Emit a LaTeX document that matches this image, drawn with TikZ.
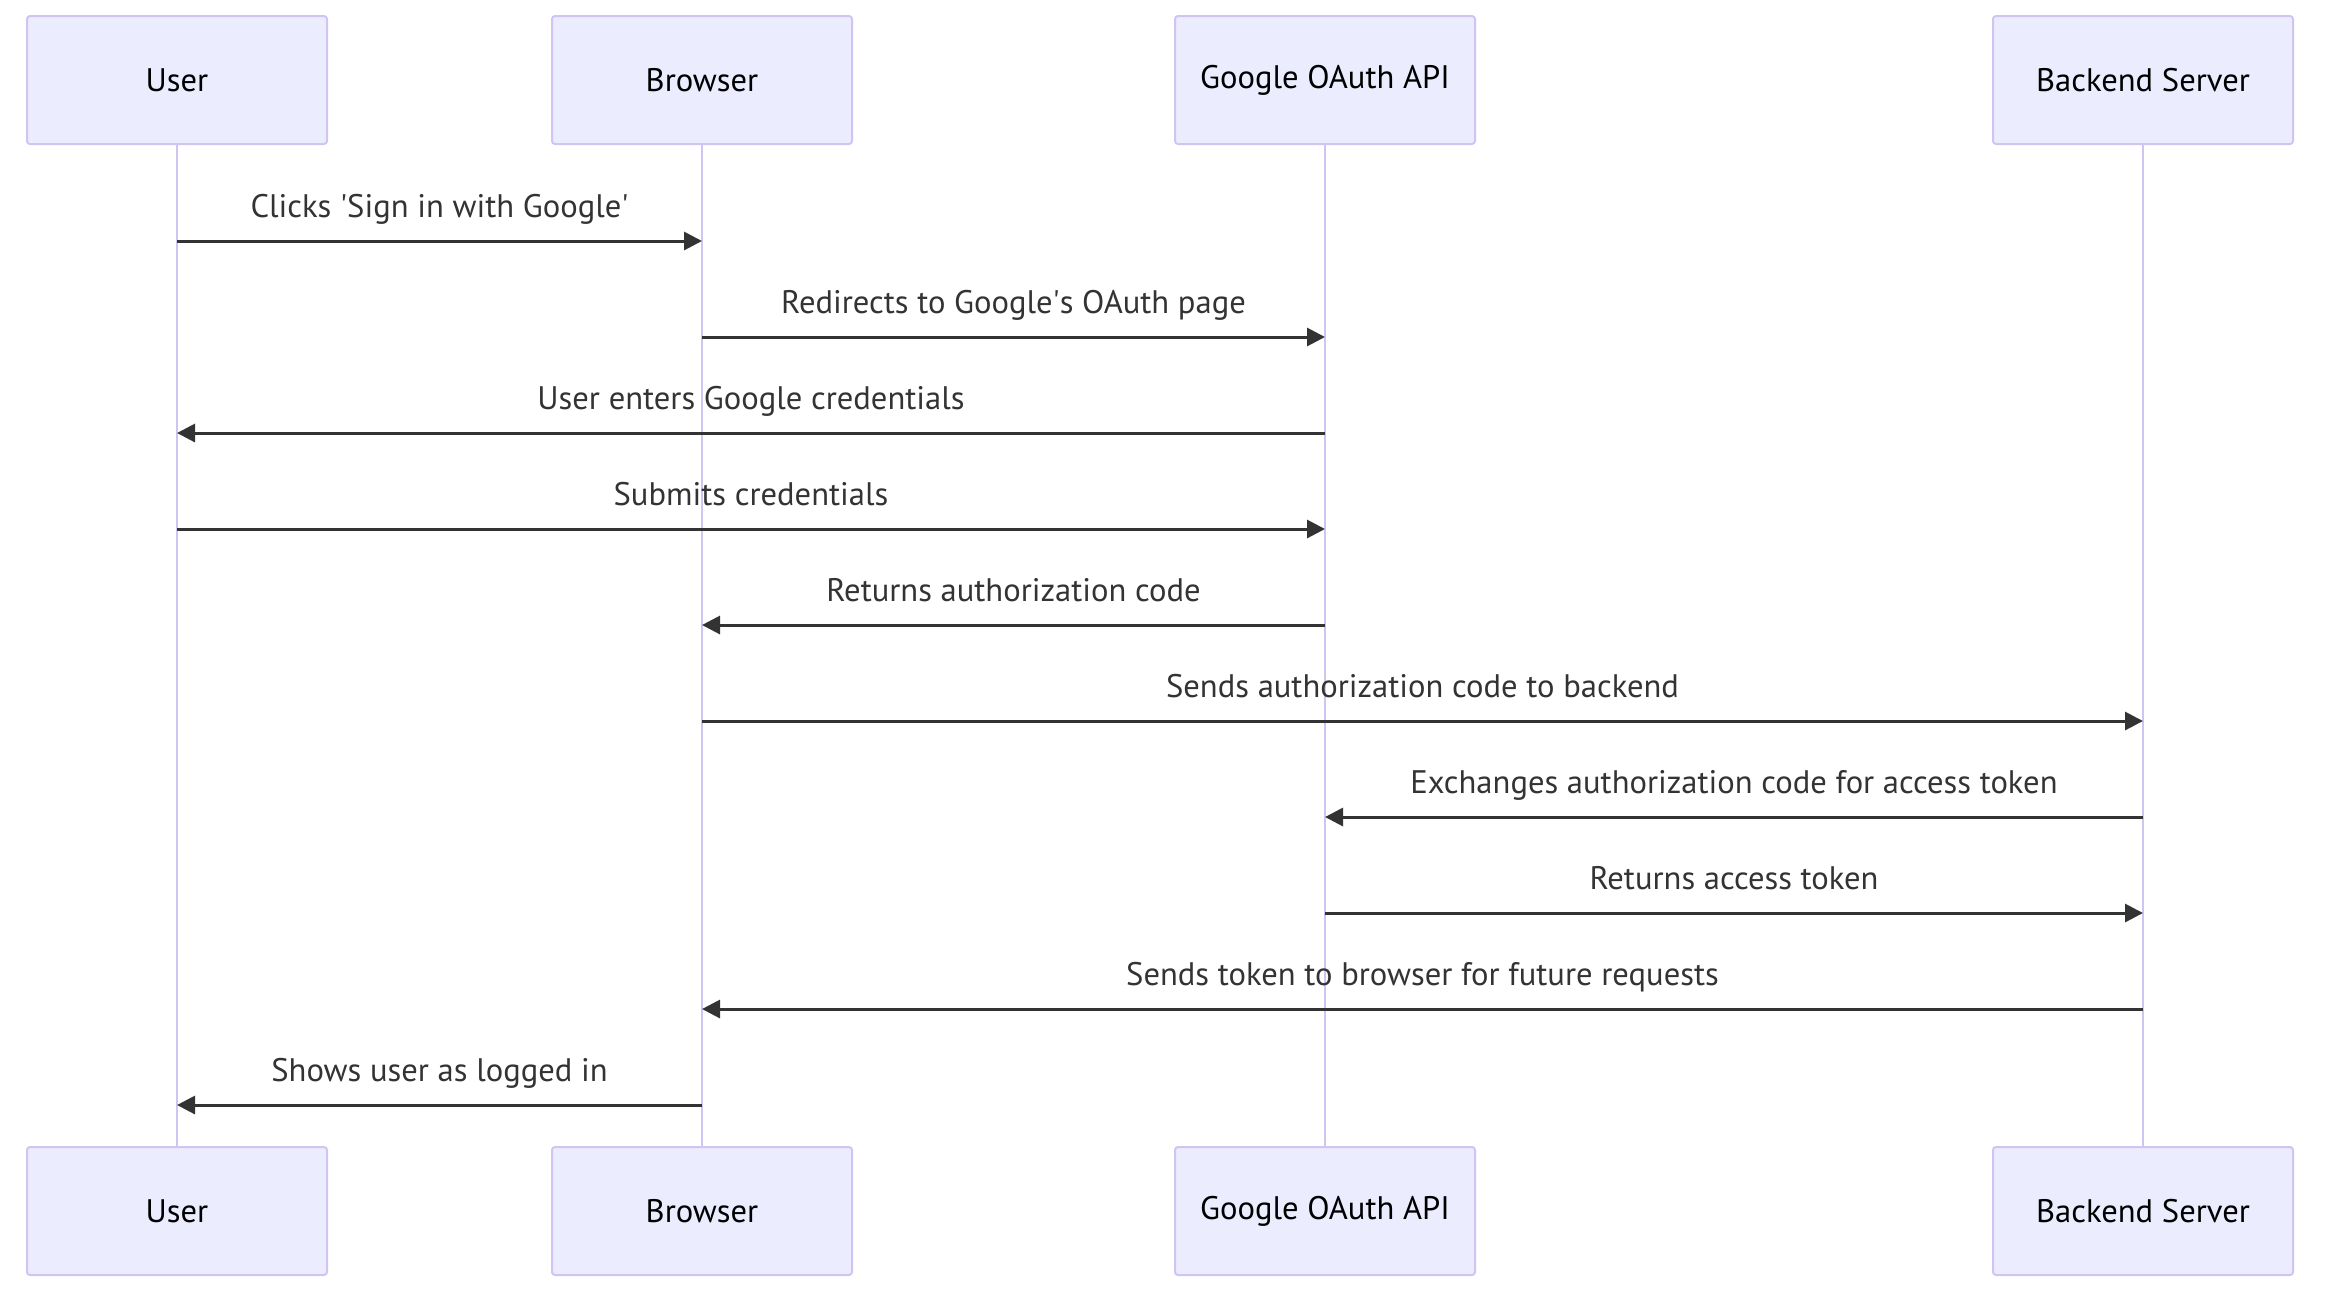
\documentclass[tikz,border=0pt]{standalone}
\usepackage{fontspec}
\setmainfont{PT Sans}
\usetikzlibrary{arrows.meta}
\definecolor{actorfill}{HTML}{ECECFF}
\definecolor{actorline}{HTML}{D0C5F2}
\definecolor{msgline}{HTML}{333333}
\tikzset{
    %Define standard arrow tip
    >={Triangle[length=9pt,width=9pt]},
    %Define style for actor boxes
    actor/.style={
           rectangle,
           rounded corners=1.5pt,
           draw=actorline,
           line width=1pt,
           fill=actorfill,
           minimum width=150pt,
           minimum height=64pt,
           font=\fontsize{16.3}{19}\selectfont},
    % Define lifeline style
    life/.style={
           draw=actorline,
           line width=1.2pt},
    % Define message arrow style
    msg/.style={
           ->,
           draw=msgline,
           line width=1.5pt},
    % Define message label style
    lbl/.style={
           midway,
           anchor=base,
           yshift=12pt,
           text=msgline,
           font=\fontsize{16.3}{19}\selectfont}
}
\begin{document}
\begin{tikzpicture}[x=0.5pt,y=-0.5pt]
  \useasboundingbox (0,0) rectangle (2332,1314);
  % actors, top and bottom
  \node[actor] (user)    at (177,80)   {User};
  \node[actor] (browser) at (702,80)   {Browser};
  \node[actor] (google)  at (1325,80)  {Google OAuth API};
  \node[actor] (backend) at (2143,80)  {Backend Server};
  \node[actor] (userB)    at (177,1211)  {User};
  \node[actor] (browserB) at (702,1211)  {Browser};
  \node[actor] (googleB)  at (1325,1211) {Google OAuth API};
  \node[actor] (backendB) at (2143,1211) {Backend Server};
  % lifelines
  \foreach \a in {user,browser,google,backend}
    \draw[life] (\a.south) -- (\a B.north);
  % message points on each lifeline
  \foreach \n/\x in {u/177,b/702,g/1325,s/2143}
    \foreach \i in {1,...,10}
      \coordinate (\n\i) at (\x,{241+(\i-1)*96});
  % messages
  \draw[msg] (u1) -- (b1) node[lbl] {Clicks \textquotesingle Sign in with Google\textquotesingle};
  \draw[msg] (b2) -- (g2) node[lbl] {Redirects to Google\textquotesingle s OAuth page};
  \draw[msg] (g3) -- (u3) node[lbl] {User enters Google credentials};
  \draw[msg] (u4) -- (g4) node[lbl] {Submits credentials};
  \draw[msg] (g5) -- (b5) node[lbl] {Returns authorization code};
  \draw[msg] (b6) -- (s6) node[lbl] {Sends authorization code to backend};
  \draw[msg] (s7) -- (g7) node[lbl] {Exchanges authorization code for access token};
  \draw[msg] (g8) -- (s8) node[lbl] {Returns access token};
  \draw[msg] (s9) -- (b9) node[lbl] {Sends token to browser for future requests};
  \draw[msg] (b10) -- (u10) node[lbl] {Shows user as logged in};
\end{tikzpicture}
\end{document}
